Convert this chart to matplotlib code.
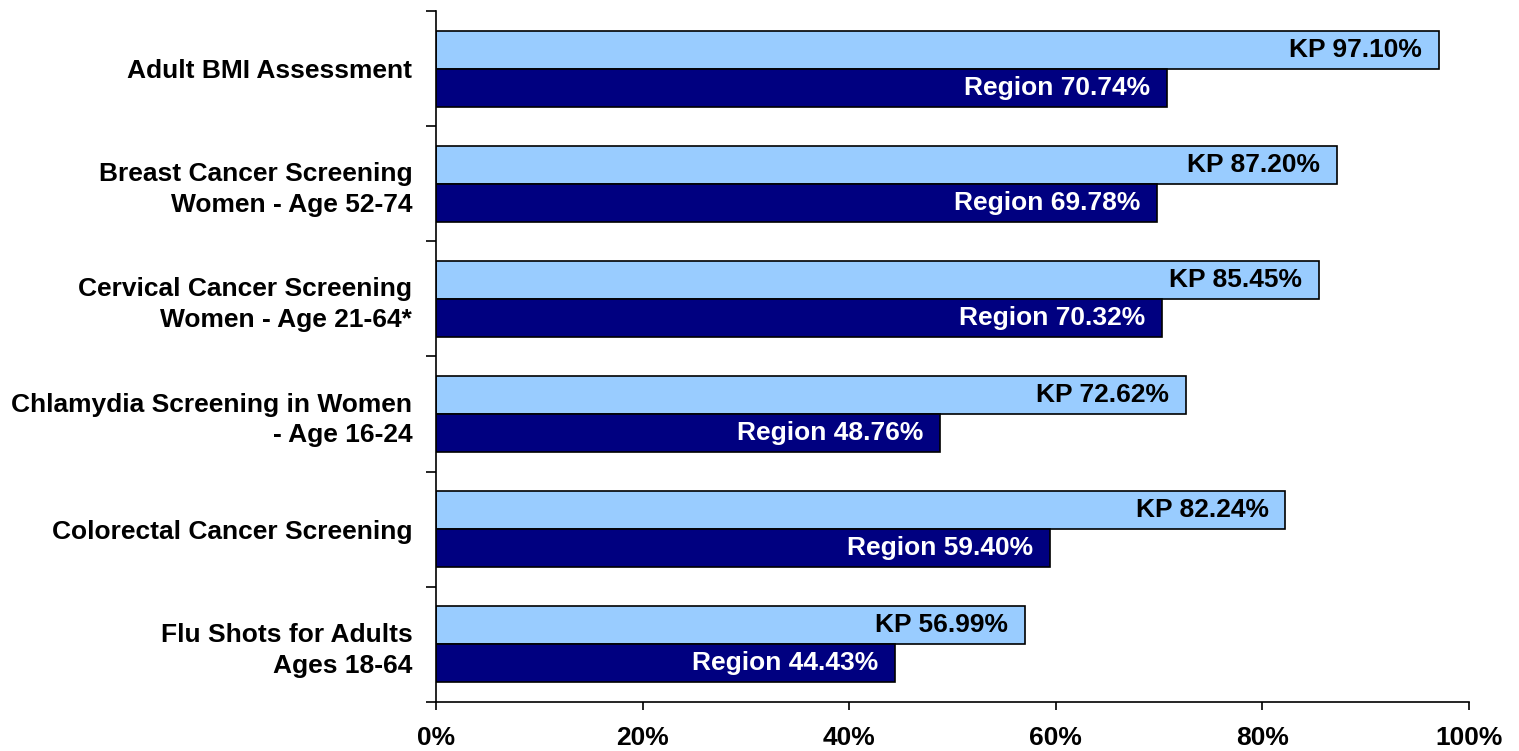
#!/usr/bin/env python3

import numpy as np
import matplotlib
matplotlib.use("Agg")
import matplotlib.pyplot as plt

categories = ["Adult BMI Assessment",
              "Breast Cancer Screening\nWomen - Age 52-74",
              "Cervical Cancer Screening\nWomen - Age 21-64*",
              "Chlamydia Screening in Women\n- Age 16-24",
              "Colorectal Cancer Screening",
              "Flu Shots for Adults\nAges 18-64"]
kp = [97.10, 87.20, 85.45, 72.62, 82.24, 56.99]
region = [70.74, 69.78, 70.32, 48.76, 59.40, 44.43]
xticks = [0, 20, 40, 60, 80, 100]

plt.rcParams['font.family'] = ['Liberation Sans', 'DejaVu Sans']
plt.rcParams['font.weight'] = 'bold'

fig = plt.figure(figsize=(15.19, 7.51), dpi=100)
ax = fig.add_axes([0.287, 0.0652, 0.680, 0.9202])

y = np.arange(len(categories))
h = 0.33
b1 = ax.barh(y - h / 2, kp, height=h, color='#99CCFF', edgecolor='black', linewidth=1.2)
b2 = ax.barh(y + h / 2, region, height=h, color='#000080', edgecolor='black', linewidth=1.2)

for rect, v in zip(b1, kp):
    ax.annotate("KP %.2f%%" % v, (v, rect.get_y() + rect.get_height() / 2),
                xytext=(-12, 0), textcoords='offset points', ha='right', va='center',
                fontsize=19, fontweight='bold', color='black')
for rect, v in zip(b2, region):
    ax.annotate("Region %.2f%%" % v, (v, rect.get_y() + rect.get_height() / 2),
                xytext=(-12, 0), textcoords='offset points', ha='right', va='center',
                fontsize=19, fontweight='bold', color='white')

ax.set_xlim(0, 100)
ax.set_ylim(len(categories) - 0.5, -0.5)

ax.set_xticks(xticks)
ax.set_xticklabels(["%d%%" % t for t in xticks], fontsize=19, fontweight='bold')
ax.tick_params(axis='x', length=6, width=1.2, pad=11)

# boundary ticks on the y axis, labels at the centres
ax.set_yticks(np.arange(len(categories) + 1) - 0.5)
ax.set_yticklabels([])
ax.set_yticks(y, minor=True)
ax.set_yticklabels(categories, minor=True, fontsize=19, fontweight='bold', linespacing=1.35)
ax.tick_params(axis='y', which='major', length=7, width=1.2)
ax.tick_params(axis='y', which='minor', length=0, pad=17)

for s in ['top', 'right']:
    ax.spines[s].set_visible(False)
for s in ['left', 'bottom']:
    ax.spines[s].set_linewidth(1.2)

fig.savefig("out.png", dpi=100)
